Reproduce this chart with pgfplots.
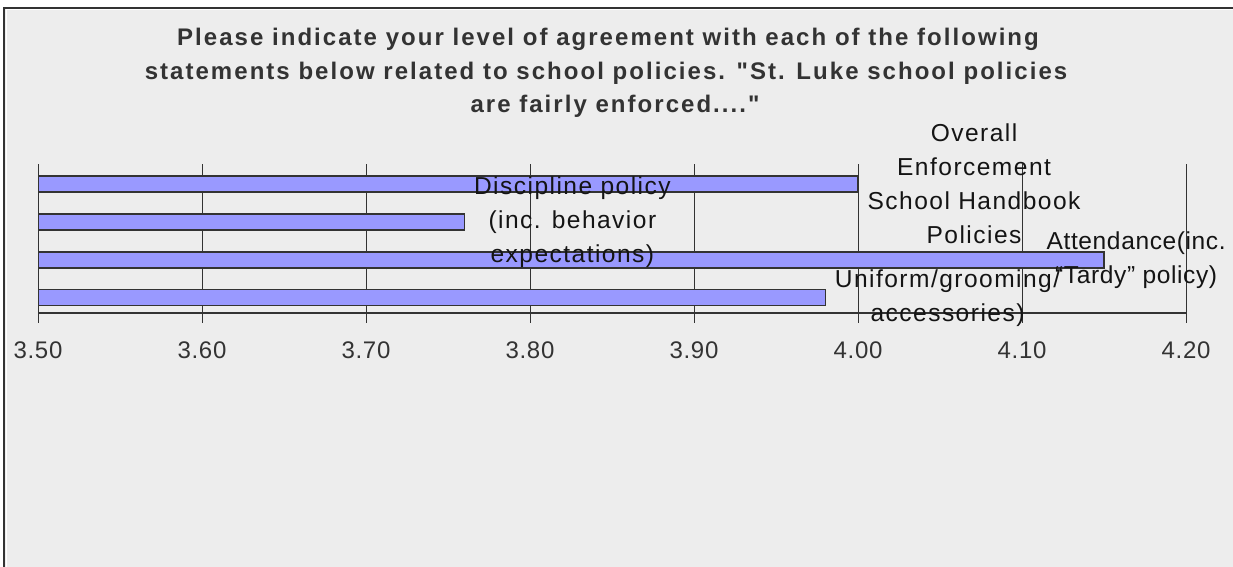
\documentclass[border=0pt]{standalone}
\usepackage{pgfplots}
\pgfplotsset{compat=1.18}
\usepackage{fontspec}
\setmainfont{Liberation Sans}
\newfontfamily\titlefont{Liberation Sans}[LetterSpace=8.5]
\newfontfamily\labelfont{Liberation Sans}[LetterSpace=6]
\newfontfamily\labelfontb{Liberation Sans}[LetterSpace=2.5]
\newfontfamily\tickfont{Liberation Sans}[LetterSpace=3]
\definecolor{bg}{RGB}{237,237,237}
\definecolor{frame}{RGB}{51,51,51}
\definecolor{barfill}{RGB}{153,153,255}
\definecolor{txt}{RGB}{51,51,51}
\definecolor{lbl}{RGB}{20,20,20}
\begin{document}
\begin{tikzpicture}[x=0.75pt,y=-0.75pt]
\path[use as bounding box] (0,0) rectangle (1233,567);
\fill[white] (0,0) rectangle (1233,567);
\fill[bg] (4,8) rectangle (1233,567);
\draw[white, line width=0.75pt] (6,567) -- (6,10) -- (1233,10);
\draw[frame, line width=1.5pt] (4.3,567) -- (4.3,8.3) -- (1233,8.3);
\begin{scope}[every node/.style={anchor=base, inner sep=0pt, text=txt, font=\titlefont\bfseries\fontsize{18}{25.5}\selectfont}]
\node at (608,46) {Please indicate your level of agreement with each of the following};
\node at (606,80) {statements below related to school policies. "St. Luke school policies};
\node at (615,113) {are fairly enforced...."};
\end{scope}
\begin{axis}[
  at={(28.5pt,-234.75pt)}, anchor=south west,
  width=861pt, height=111.75pt, scale only axis,
  xmin=3.5, xmax=4.2, ymin=0.60, ymax=4.527,
  axis x line=bottom, axis y line=none,
  axis line style={-, frame, line width=1pt},
  xtick={3.5,3.6,3.7,3.8,3.9,4.0,4.1,4.2}, ytick=\empty,
  tick align=outside, major tick length=7.3pt,
  tick style={frame, line width=0.75pt},
  xmajorgrids, major grid style={frame, line width=0.75pt},
  xticklabel style={font=\tickfont\fontsize{18}{20}\selectfont, text=txt, yshift=-11pt},
  /pgf/number format/.cd, fixed, fixed zerofill, precision=2, assume math mode=true,
]
\pgfplotsset{
  lblstyle/.style 2 args={every node near coord/.style={anchor=west, align=center, inner sep=0pt, xshift=#1, text=lbl, font=#2\fontsize{18.4}{25.5}\selectfont}},
  barstyle/.style={xbar, bar width=12pt, bar shift=0pt, fill=barfill, draw=frame, line width=1pt}
}
\addplot[barstyle, lblstyle={6.75pt}{\labelfont}, nodes near coords={Overall\\Enforcement\\School Handbook\\Policies}] coordinates {(4.00,4)};
\addplot[barstyle, lblstyle={6.75pt}{\labelfont}, nodes near coords={Discipline policy\\(inc. behavior\\expectations)}] coordinates {(3.76,3)};
\addplot[barstyle, lblstyle={-43.5pt}{\labelfontb}, nodes near coords={Attendance(inc.\\“Tardy” policy)}] coordinates {(4.15,2)};
\addplot[barstyle, lblstyle={6.75pt}{\labelfont}, nodes near coords={Uniform/grooming/\\accessories)}] coordinates {(3.98,1)};
\end{axis}
\end{tikzpicture}
\end{document}
